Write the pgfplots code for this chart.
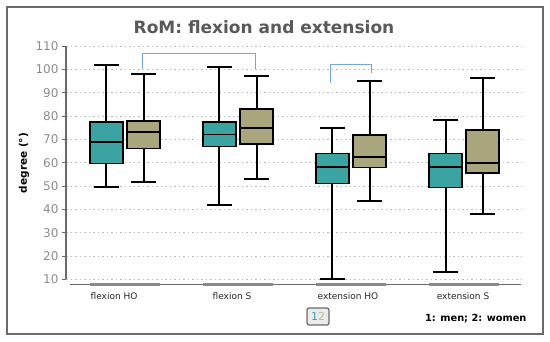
\documentclass[border=0pt]{standalone}
\usepackage{fontspec}
\setmainfont{DejaVu Sans}
\usepackage{pgfplots}
\pgfplotsset{compat=1.18}
\definecolor{menc}{HTML}{3BA3A1}
\definecolor{womc}{HTML}{A9A67D}
\definecolor{brk}{HTML}{72A8D8}
\definecolor{axg}{HTML}{6A6A6A}
\definecolor{tickg}{HTML}{8C8C8C}
\definecolor{segg}{HTML}{8A8A8A}
% box: #1 position, #2 colour, #3 lower whisker, #4 lower quartile, #5 median, #6 upper quartile, #7 upper whisker
\newcommand{\bx}[7]{%
  \pgfmathsetmacro{\xl}{#1-0.146}\pgfmathsetmacro{\xr}{#1+0.146}%
  \pgfmathsetmacro{\cl}{#1-0.11}\pgfmathsetmacro{\cr}{#1+0.11}%
  \addplot[black, line width=2pt, unbounded coords=jump] coordinates {(\cl,#3) (\cr,#3) (#1,nan) (#1,#3) (#1,#4) (#1,nan) (#1,#6) (#1,#7) (#1,nan) (\cl,#7) (\cr,#7)};
  \addplot[draw=black, fill=#2, line width=1.6pt] coordinates {(\xl,#4) (\xr,#4) (\xr,#6) (\xl,#6)} -- cycle;
  \addplot[black, line width=1.8pt] coordinates {(\xl,#5) (\xr,#5)};
}
\begin{document}
\begin{tikzpicture}
\useasboundingbox (0,0) rectangle (550pt,341pt);
\draw[axg, line width=1.5pt] (7pt,7pt) rectangle (543pt,334pt);
\begin{axis}[
  at={(66pt,57pt)}, anchor=south west,
  scale only axis, width=455pt, height=238pt,
  xmin=-0.522, xmax=3.504, ymin=8, ymax=110,
  clip=false,
  axis line style={draw=none},
  ytick={10,20,...,110},
  ytick pos=left,
  tick align=outside,
  major tick length=4pt,
  ytick style={axg, line width=1pt},
  xtick={-0.097,0.947,1.973,2.991},
  xticklabels={flexion HO, flexion S, extension HO, extension S},
  xtick style={draw=none},
  ymajorgrids,
  grid style={tickg!60, line width=0.9pt, dash pattern=on 1.5pt off 3pt},
  yticklabel style={font=\fontsize{12}{12}\selectfont, text=tickg},
  xticklabel style={font=\fontsize{9}{9}\selectfont, text=black!85, yshift=-1pt},
  /pgf/number format/assume math mode=true,
]
% x axis line with category segments
\addplot[axg, line width=1pt] coordinates {(-0.487,8) (3.504,8)};
\addplot[segg, line width=3pt] coordinates {(-0.31,8) (0.31,8)};
\addplot[segg, line width=3pt] coordinates {(0.69,8) (1.31,8)};
\addplot[segg, line width=3pt] coordinates {(1.69,8) (2.31,8)};
\addplot[segg, line width=3pt] coordinates {(2.69,8) (3.31,8)};
% flexion HO
\bx{-0.164}{menc}{49.7}{59.7}{69}{77.4}{101.7}
\bx{0.164}{womc}{51.6}{66}{73}{77.9}{98}
% flexion S
\bx{0.836}{menc}{41.9}{66.9}{72.1}{77.4}{101}
\bx{1.164}{womc}{53}{68}{74.9}{82.9}{97}
% extension HO
\bx{1.836}{menc}{10}{51}{58}{63.9}{74.9}
\bx{2.164}{womc}{43.7}{57.9}{62.3}{71.9}{95}
% extension S
\bx{2.836}{menc}{13.1}{49.3}{58}{63.9}{78.1}
\bx{3.164}{womc}{38}{55.7}{59.9}{73.9}{96.1}
% significance brackets
\addplot[brk, line width=1pt] coordinates {(0.155,100) (0.155,107) (1.155,107) (1.155,100)};
\addplot[brk, line width=1pt] coordinates {(1.82,94) (1.82,102) (2.177,102) (2.177,98.3)};
\coordinate (ybot) at (axis cs:-0.522,10);
\coordinate (ytop) at (axis cs:-0.522,110);
\end{axis}
% y axis line
\draw[axg, line width=1.6pt] (ybot) -- (ytop);
\node[font=\bfseries\fontsize{17}{17}\selectfont, text=black!65] at (264pt,314pt) {RoM: flexion and extension};
\node[rotate=90, font=\bfseries\fontsize{10.5}{10.5}\selectfont] at (24pt,178pt) {degree (°)};
\node[draw=axg, fill=black!8, rounded corners=2pt, line width=1.2pt, minimum width=22pt, minimum height=17pt, inner sep=1pt, font=\fontsize{11}{11}\selectfont] at (318pt,24.5pt) {\textcolor{menc}{1}\textcolor{womc!75!white}{2}};
\node[anchor=east, font=\bfseries\fontsize{9.8}{9.8}\selectfont] at (530pt,22pt) {1: men; 2: women};
\end{tikzpicture}
\end{document}
